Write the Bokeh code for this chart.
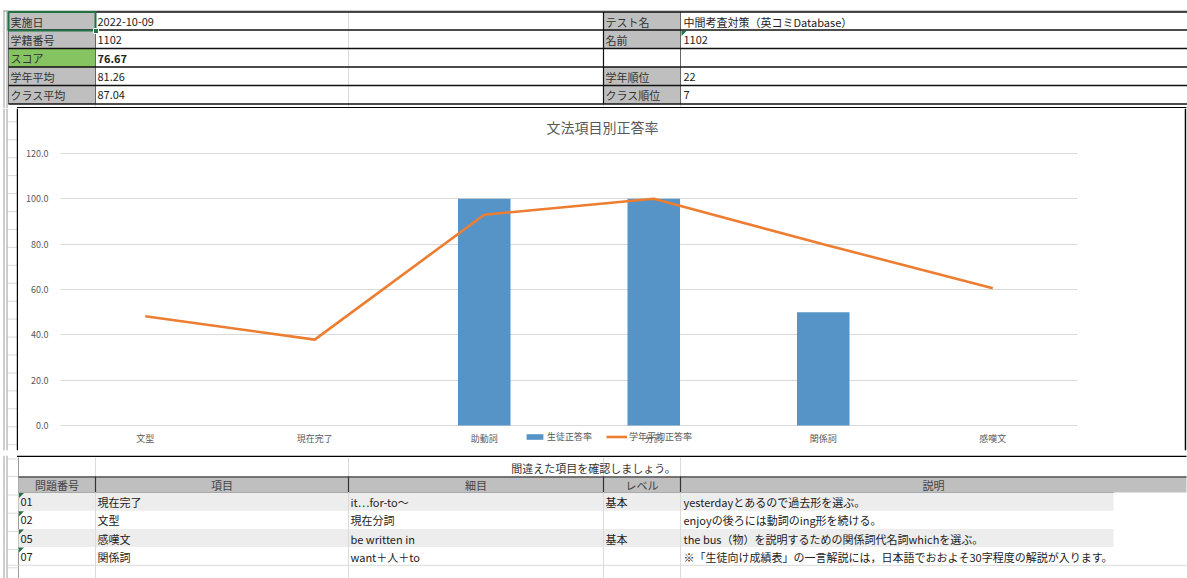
from bokeh.plotting import figure
from bokeh.layouts import column, row
from bokeh.models import (Range1d, FactorRange, FixedTicker, NumeralTickFormatter,
                          Legend, LegendItem, ColumnDataSource)
from bokeh.core.properties import value
from bokeh.embed import file_html
from bokeh.resources import INLINE

# ---------------- data ----------------
categories = ["文型", "現在完了", "助動詞", "分詞", "関係詞", "感嘆文"]
student_rate = [0, 0, 100, 100, 50, 0]
grade_rate = [48.2, 37.9, 93.0, 100.0, 80.0, 60.5]
y_tick_values = [0, 20, 40, 60, 80, 100, 120]
chart_title = "文法項目別正答率"
series_names = ["生徒正答率", "学年平均正答率"]

info_left_labels = ["実施日", "学籍番号", "スコア", "学年平均", "クラス平均"]
info_left_values = ["2022-10-09", "1102", "76.67", "81.26", "87.04"]
info_right_labels = ["テスト名", "名前", "", "学年順位", "クラス順位"]
info_right_values = ["中間考査対策（英コミDatabase）", "1102", "", "22", "7"]

message = "間違えた項目を確認しましょう。"
table_headers = ["問題番号", "項目", "細目", "レベル", "説明"]
q_numbers = ["01", "02", "05", "07"]
q_items = ["現在完了", "文型", "感嘆文", "関係詞"]
q_details = ["it…for-to～", "現在分詞", "be written in", "want＋人＋to"]
q_levels = ["基本", "", "基本", ""]
q_notes = ["yesterdayとあるので過去形を選ぶ。",
           "enjoyの後ろには動詞のing形を続ける。",
           "the bus（物）を説明するための関係詞代名詞whichを選ぶ。",
           "※「生徒向け成績表」の一言解説には，日本語でおおよそ30字程度の解説が入ります。"]

JP = value("Noto Sans CJK JP")
BLUE = "#5694C8"
ORANGE = "#ED7D31"
LABEL_GREY = "#BFBFBF"
SCORE_GREEN = "#86C462"
SEL_GREEN = "#217346"
LIGHT = "#DADADA"
TXT = "#222222"
EDGE = "#9A9A9A"


def sheet_fig(w, h, x0, x1, y0, y1):
    f = figure(width=w, height=h, x_range=Range1d(x0, x1), y_range=Range1d(y1, y0),
               output_backend="svg", toolbar_location=None, min_border=0,
               x_axis_location=None, y_axis_location=None)
    f.grid.visible = False
    f.outline_line_color = None
    f.background_fill_color = "white"
    f.border_fill_color = "white"
    return f


def txt(f, x, y, s, align="left", size="11px", color=TXT, style="normal"):
    f.text(x=[x], y=[y], text=[s], text_font=JP, text_font_size=size,
           text_color=color, text_align=align, text_baseline="middle",
           text_font_style=style)


def hline(f, y, x0, x1, color, w=1.0):
    f.segment(x0=[x0], y0=[y], x1=[x1], y1=[y], line_color=color, line_width=w)


def vline(f, x, y0, y1, color, w=1.0):
    f.segment(x0=[x], y0=[y0], x1=[x], y1=[y1], line_color=color, line_width=w)


def tri(f, x, y):
    f.patch(x=[x, x + 5, x], y=[y, y, y + 5], fill_color=SEL_GREEN, line_color=None)


def sheet_edge(f, y0, y1):
    vline(f, 3.5, y0, y1, EDGE)
    vline(f, 6.5, y0, y1, EDGE)


# ---------------- top info table ----------------
top = sheet_fig(1187, 108, 0, 1187, 0, 108)
rows_b = [11.5, 29.5, 48, 66.5, 85, 103.5]
hline(top, 10.5, 3, 1187, EDGE, 1)
sheet_edge(top, 10, 108)
vline(top, 348, 11, 108, LIGHT)
for x in [95, 603, 680]:
    vline(top, x, 103.5, 108, LIGHT)
for i in range(5):
    yt, yb = rows_b[i], rows_b[i + 1]
    yc = (yt + yb) / 2 + 0.5
    fill = SCORE_GREEN if info_left_labels[i] == "スコア" else LABEL_GREY
    top.quad(left=[8], right=[95], top=[yt], bottom=[yb], fill_color=fill, line_color=None)
    if info_right_labels[i]:
        top.quad(left=[603], right=[680], top=[yt], bottom=[yb], fill_color=LABEL_GREY,
                 line_color=None)
    txt(top, 10, yc, info_left_labels[i], color="#333333")
    txt(top, 97, yc, info_left_values[i],
        style="bold" if info_left_labels[i] == "スコア" else "normal")
    txt(top, 605, yc, info_right_labels[i], color="#333333")
    txt(top, 683, yc, info_right_values[i])
for x in [95, 680]:
    vline(top, x, rows_b[0], rows_b[-1], "#666666", 1)
vline(top, 603, rows_b[0], rows_b[-1], "#111111", 1.2)
vline(top, 8, rows_b[0], rows_b[-1], "#666666", 1)
for yb in rows_b:
    hline(top, yb, 8, 1187, "#111111", 1.4)
# selected cell
top.quad(left=[8], right=[95], top=[11.5], bottom=[30], fill_color=None,
         line_color=SEL_GREEN, line_width=2)
top.quad(left=[93], right=[98], top=[28], bottom=[33], fill_color=SEL_GREEN, line_color="white")
tri(top, 681, 30.5)
# chart box top border
top.quad(left=[16.5], right=[1186], top=[106.5], bottom=[108], fill_color="#000000",
         line_color=None)

# ---------------- left gutter ----------------
gut = sheet_fig(18, 347, 0, 18, 108, 455)
y = 121.5
while y < 455:
    hline(gut, y, 7, 17, LIGHT)
    y += 18.2
sheet_edge(gut, 108, 455)
gut.quad(left=[16.3], right=[18], top=[108], bottom=[455], fill_color="#000000",
         line_color=None)

# ---------------- right border ----------------
rg = sheet_fig(3, 347, 1184, 1187, 108, 455)
rg.quad(left=[1184], right=[1185.7], top=[108], bottom=[455], fill_color="#000000",
        line_color=None)

# ---------------- chart ----------------
# frame spans the whole chart box height; 0..120 sits where the reference plot area is
src = ColumnDataSource(dict(cat=categories, student=student_rate, grade=grade_rate))
chart = figure(width=1166, height=347, x_range=FactorRange(*categories, range_padding=0),
               y_range=Range1d(-11.03, 139.85), output_backend="svg", toolbar_location=None,
               min_border_left=42, min_border_right=107, min_border_top=0,
               min_border_bottom=5)
chart.outline_line_color = None
chart.background_fill_color = "white"
chart.border_fill_color = "white"
bars = chart.vbar(x="cat", top="student", width=0.31, source=src,
                  fill_color=BLUE, line_color=None)
ln = chart.line(x="cat", y="grade", source=src, line_color=ORANGE, line_width=2.6)

# chart title (centred on the chart box)
chart.text(x=[3.198], y=[131.5], text=[chart_title], text_font=JP, text_font_size="14px",
           text_color="#595959", text_align="center", text_baseline="middle")

chart.xgrid.grid_line_color = None
chart.ygrid.grid_line_color = "#D9D9D9"
chart.ygrid.grid_line_width = 1
chart.yaxis.ticker = FixedTicker(ticks=y_tick_values)
chart.yaxis.formatter = NumeralTickFormatter(format="0.0")
for ax in [chart.xaxis[0], chart.yaxis[0]]:
    ax.axis_line_color = None
    ax.major_tick_line_color = None
    ax.minor_tick_line_color = None
    ax.major_tick_out = 0
    ax.major_tick_in = 0
    ax.major_label_text_font_size = "9px"
    ax.major_label_text_color = "#595959"
    ax.major_label_text_font = "Noto Sans CJK JP"
chart.yaxis.major_label_standoff = 12
chart.xaxis.major_label_standoff = -19

legend = Legend(items=[LegendItem(label=series_names[0], renderers=[bars]),
                       LegendItem(label=series_names[1], renderers=[ln])],
                orientation="horizontal", location=(464, 7),
                background_fill_alpha=0, border_line_alpha=0,
                label_text_font_size="9px", label_text_color="#595959",
                label_text_font="Noto Sans CJK JP",
                glyph_width=21, glyph_height=7, padding=0, spacing=14,
                label_standoff=2, margin=0, label_height=10)
chart.add_layout(legend)

# ---------------- bottom table ----------------
bot = sheet_fig(1187, 123, 0, 1187, 455, 578)
bot.quad(left=[16.5], right=[1186], top=[455], bottom=[456.5], fill_color="#000000",
         line_color=None)
sheet_edge(bot, 455, 578)
for yy in [458.5, 476]:
    hline(bot, yy, 7, 18, LIGHT)
for x in [95, 348, 603, 680]:
    vline(bot, x, 457, 476, LIGHT)
vline(bot, 18, 457, 578, EDGE)
txt(bot, 593, 467, message, align="center", color="#333333")

col_x = [18, 95, 348, 603, 680, 1186]
bot.quad(left=[18], right=[1186], top=[476], bottom=[492], fill_color=LABEL_GREY,
         line_color=None)
hline(bot, 476.5, 18, 1186, "#555555", 1.6)
hline(bot, 492, 18, 1113, "#666666", 1)
for i, h in enumerate(table_headers):
    txt(bot, (col_x[i] + col_x[i + 1]) / 2, 484.5, h, align="center", color="#444444")
for x in col_x[1:5]:
    vline(bot, x, 476, 492, "#333333", 1.2)

row_top = [492, 510.2, 528.4, 546.6]
rh = 18.2
for i in range(4):
    yt = row_top[i]
    if i % 2 == 0:
        bot.quad(left=[18], right=[1113], top=[yt], bottom=[yt + rh], fill_color="#EDEDED",
                 line_color=None)
for i in range(4):
    yt = row_top[i]
    yc = yt + rh / 2 + 0.5
    txt(bot, 20, yc, q_numbers[i])
    txt(bot, 97, yc, q_items[i])
    txt(bot, 350, yc, q_details[i])
    txt(bot, 605, yc, q_levels[i])
    txt(bot, 683, yc, q_notes[i])
    tri(bot, 18.5, yt + 0.5)
for x in col_x[1:5]:
    vline(bot, x, 492, 578, LIGHT)
hline(bot, 564.8, 7, 1187, LIGHT)
y = 494.5
while y < 578:
    hline(bot, y, 7, 18, LIGHT)
    y += 18.2

layout = column(top, row(gut, chart, rg, spacing=0), bot, spacing=0)
open("out.html", "w").write(file_html(layout, INLINE))
